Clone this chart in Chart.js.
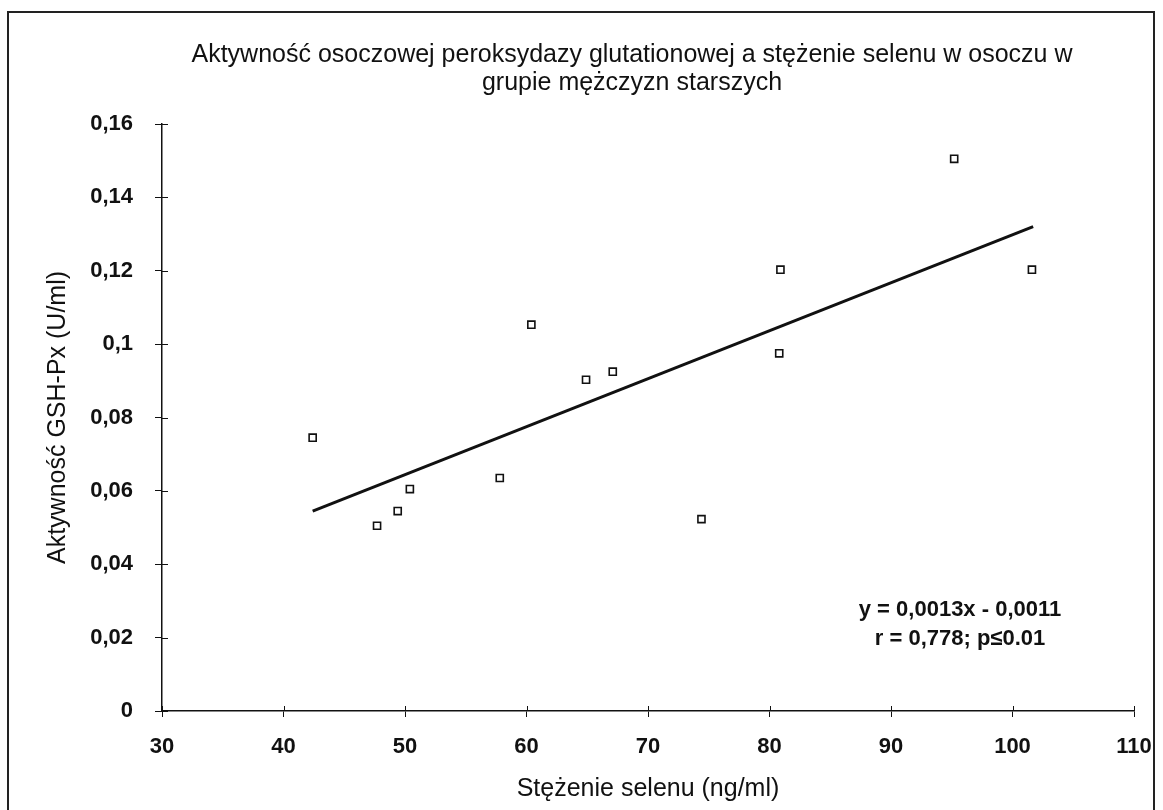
<!DOCTYPE html>
<html>
<head>
<meta charset="utf-8">
<title>GSH-Px a selen</title>
<script src="https://cdn.jsdelivr.net/npm/chart.js@4/dist/chart.umd.min.js"></script>
<style>
    body { margin: 0; background: #fff; }
    #frame {
        position: absolute;
        left: 7px;
        top: 11px;
        width: 1148px;
        height: 830px;
        border: 2px solid #222;
        box-sizing: border-box;
    }
    #wrap { position: absolute; left: 0; top: 0; width: 1163px; height: 810px; }
</style>
</head>
<body>
<div id="frame"></div>
<div id="wrap"><canvas id="chart" width="1163" height="810"></canvas></div>
<script>

//
// Data.
//
var selenium = [42.4, 47.7, 49.4, 50.4, 57.8, 60.4, 64.9, 67.1, 74.4, 80.8, 80.9, 95.2, 101.6];
var gshpx = [0.0745, 0.0505, 0.0545, 0.0605, 0.0635, 0.1053, 0.0903, 0.0925, 0.0523, 0.0975, 0.1203, 0.1505, 0.1203];

// Ends of the regression line, as drawn.
var trend_x = [42.4, 101.7];
var trend_y = [0.0545, 0.1320];

var y_tick_labels = ["0", "0,02", "0,04", "0,06", "0,08", "0,1", "0,12", "0,14", "0,16"];

var title_lines = [
    "Aktywność osoczowej peroksydazy glutationowej a stężenie selenu w osoczu w",
    "grupie mężczyzn starszych",
    ];
var x_title = "Stężenie selenu (ng/ml)";
var y_title = "Aktywność GSH-Px (U/ml)";
var note_lines = ["y = 0,0013x - 0,0011", "r = 0,778; p\u22640.01"];

var font_family = "'Liberation Sans', Arial, sans-serif";


/**
* Zip two arrays into {x, y} points.
*/
function toPoints(xs, ys) {

    var retval = [];
    xs.forEach( (value, key) => {
        retval.push({x: value, y: ys[key]});
        });

    return(retval);

} // End of toPoints()


/**
* Plugin that draws the title, the regression note and the inner halves of the ticks.
*/
var extrasPlugin = {
    id: "extras",
    afterDraw: function(chart) {

        var ctx = chart.ctx;
        var area = chart.chartArea;
        var xs = chart.scales.x;
        var ys = chart.scales.y;

        ctx.save();
        ctx.fillStyle = "#111";
        ctx.textAlign = "center";
        ctx.textBaseline = "middle";

        // Title
        ctx.font = "25px " + font_family;
        ctx.fillText(title_lines[0], 632, 55);
        ctx.fillText(title_lines[1], 632, 83);

        // Regression note
        ctx.font = "bold 22px " + font_family;
        ctx.fillText(note_lines[0], 960, 610);
        ctx.fillText(note_lines[1], 960, 639);

        //
        // Tick marks cross the axes, so draw the part inside the plot too.
        //
        ctx.strokeStyle = "#111";
        ctx.lineWidth = 1;
        ctx.beginPath();
        xs.ticks.forEach( (tick) => {
            var px = Math.round(xs.getPixelForValue(tick.value)) + 0.5;
            ctx.moveTo(px, area.bottom);
            ctx.lineTo(px, area.bottom - 5);
            });
        ys.ticks.forEach( (tick) => {
            var py = Math.round(ys.getPixelForValue(tick.value)) + 0.5;
            ctx.moveTo(area.left, py);
            ctx.lineTo(area.left + 6, py);
            });
        ctx.stroke();
        ctx.restore();

    }
};


/**
* Build the chart.
*/
function drawChart() {

    var data = {
        datasets: [
            {
                label: "Pomiary",
                data: toPoints(selenium, gshpx),
                pointStyle: "rect",
                pointRadius: 5,
                pointBorderWidth: 1.6,
                pointBorderColor: "#111",
                pointBackgroundColor: "#fff",
                showLine: false,
                order: 1,
            },
            {
                label: "Trend",
                data: toPoints(trend_x, trend_y),
                showLine: true,
                borderColor: "#111",
                borderWidth: 3,
                pointRadius: 0,
                order: 2,
            },
            ],
        };

    var tick_font = {family: font_family, size: 22, weight: "bold"};
    var title_font = {family: font_family, size: 25};

    var options = {
        responsive: false,
        animation: false,
        layout: {
            padding: {left: 39, right: 29, top: 124, bottom: 2},
            },
        plugins: {
            legend: {display: false},
            tooltip: {enabled: false},
            },
        scales: {
            x: {
                type: "linear",
                min: 30,
                max: 110,
                ticks: {
                    stepSize: 10,
                    color: "#111",
                    font: tick_font,
                    padding: 17,
                    },
                grid: {
                    drawOnChartArea: false,
                    color: "#111",
                    tickLength: 6,
                    },
                border: {color: "#111", width: 1.5},
                title: {
                    display: true,
                    text: x_title,
                    color: "#111",
                    font: title_font,
                    },
                afterFit: function(scale) {
                    // Keep the plot edges where the reference has them.
                    scale.height = 97;
                    scale.paddingLeft = 0;
                    scale.paddingRight = 0;
                    },
                },
            y: {
                type: "linear",
                min: 0,
                max: 0.16,
                ticks: {
                    stepSize: 0.02,
                    color: "#111",
                    font: tick_font,
                    padding: 22,
                    callback: function(value, index) {
                        return(y_tick_labels[index]);
                        },
                    },
                grid: {
                    drawOnChartArea: false,
                    color: "#111",
                    tickLength: 7,
                    },
                border: {color: "#111", width: 1.5},
                title: {
                    display: true,
                    text: y_title,
                    color: "#111",
                    font: title_font,
                    },
                afterFit: function(scale) {
                    scale.width = 123;
                    scale.paddingTop = 0;
                    scale.paddingBottom = 0;
                    },
                },
            },
        };

    var canvas = document.getElementById("chart").getContext("2d");
    window.chart = new Chart(canvas, {
        type: "scatter",
        data: data,
        options: options,
        plugins: [extrasPlugin],
        });

} // End of drawChart()

drawChart();

</script>
</body>
</html>
